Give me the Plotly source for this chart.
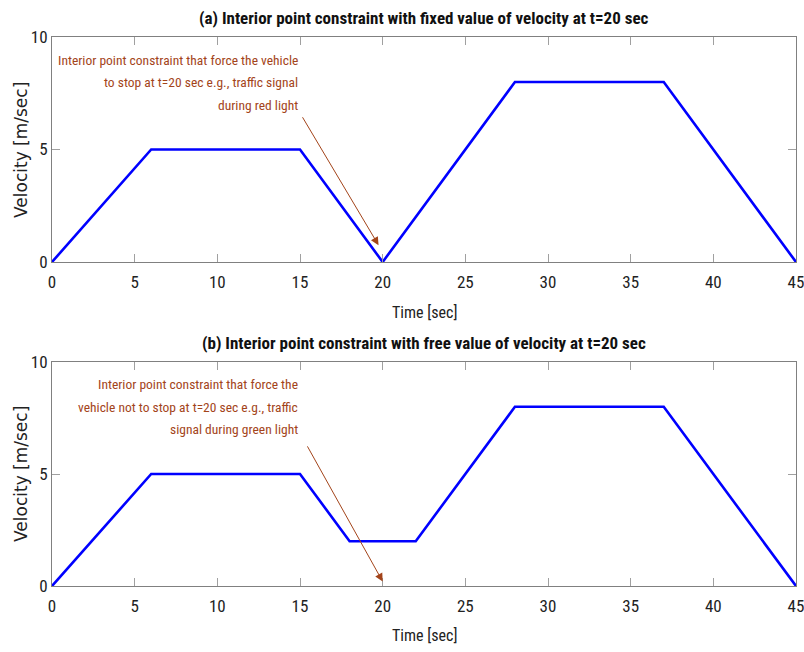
import plotly.graph_objects as go

# Velocity profiles (time in sec, velocity in m/sec)
time_fixed = [0, 6, 15, 20, 28, 37, 45]
vel_fixed = [0, 5, 5, 0, 8, 8, 0]

time_free = [0, 6, 15, 18, 22, 28, 37, 45]
vel_free = [0, 5, 5, 2, 2, 8, 8, 0]

x_ticks = [0, 5, 10, 15, 20, 25, 30, 35, 40, 45]
y_ticks = [0, 5, 10]

titles = [
    "(a) Interior point constraint with fixed value of velocity at t=20 sec",
    "(b) Interior point constraint with free value of velocity at t=20 sec",
]
note_lines = [
    ["Interior point constraint that force the vehicle",
     "to stop at t=20 sec e.g., traffic signal",
     "during red light"],
    ["Interior point constraint that force the",
     "vehicle not to stop at t=20 sec e.g., traffic",
     "signal during green light"],
]
note_y = [9.0, 8.0, 7.0]

W, H = 804, 652
NARROW = "Roboto Condensed, Liberation Sans Narrow, Roboto, sans-serif"
WIDE = "DejaVu Sans, sans-serif"
BLUE = "#0000FF"
BROWN = "#A3441A"
AX = "#808080"

fig = go.Figure()
fig.add_trace(go.Scatter(x=time_fixed, y=vel_fixed, mode="lines",
                         line=dict(color=BLUE, width=2.6), xaxis="x", yaxis="y",
                         showlegend=False, hoverinfo="skip"))
fig.add_trace(go.Scatter(x=time_free, y=vel_free, mode="lines",
                         line=dict(color=BLUE, width=2.6), xaxis="x2", yaxis="y2",
                         showlegend=False, hoverinfo="skip"))

xdom = [52 / W, 796 / W]
ydom_top = [(H - 262) / H, (H - 37) / H]
ydom_bot = [(H - 586) / H, (H - 362) / H]

def xaxis(anchor):
    return dict(domain=xdom, anchor=anchor, range=[0, 45], tickvals=x_ticks,
                ticks="inside", ticklen=8, tickcolor="#a0a0a0", showline=True,
                linecolor=AX, linewidth=1, mirror="ticks", showgrid=False,
                zeroline=False, automargin=False, ticklabeloverflow="allow",
                ticklabelstandoff=5,
                tickfont=dict(family=NARROW, size=17, color="#222"))

def yaxis(anchor, dom):
    return dict(domain=dom, anchor=anchor, range=[0, 10], tickvals=y_ticks,
                ticks="inside", ticklen=8, tickcolor="#a0a0a0", showline=True,
                linecolor=AX, linewidth=1, mirror="ticks", showgrid=False,
                zeroline=False, automargin=False, ticklabeloverflow="allow",
                tickfont=dict(family=NARROW, size=17, color="#222"))

fig.update_layout(
    width=W, height=H, margin=dict(l=0, r=0, t=0, b=0),
    paper_bgcolor="white", plot_bgcolor="white",
    xaxis=xaxis("y"), yaxis=yaxis("x", ydom_top),
    xaxis2=xaxis("y2"), yaxis2=yaxis("x2", ydom_bot),
)

def paper(px, py):
    return px / W, (H - py) / H

# Panel titles and axis titles
for title, ty, xty, ycy in zip(titles, [18, 343], [312, 635], [150, 474]):
    x, y = paper(424, ty)
    fig.add_annotation(text="<b>" + title + "</b>", xref="paper", yref="paper",
                       x=x, y=y, showarrow=False, xanchor="center", yanchor="middle",
                       font=dict(family=NARROW, size=17, color="#111"))
    x, y = paper(424, xty)
    fig.add_annotation(text="Time [sec]", xref="paper", yref="paper",
                       x=x, y=y, showarrow=False, xanchor="center", yanchor="middle",
                       font=dict(family=NARROW, size=16, color="#222"))
    x, y = paper(21, ycy)
    fig.add_annotation(text="Velocity [m/sec]", xref="paper", yref="paper",
                       x=x, y=y, showarrow=False, xanchor="center", yanchor="middle",
                       textangle=-90, font=dict(family=WIDE, size=17, color="#222"))

# Explanatory notes with arrows pointing at t=20 sec
for lines, (xr, yr) in zip(note_lines, [("x", "y"), ("x2", "y2")]):
    for line, ly in zip(lines, note_y):
        fig.add_annotation(text=line, xref=xr, yref=yr, x=15.0, y=ly,
                           xanchor="right", yanchor="middle", showarrow=False,
                           font=dict(family=NARROW, size=13.5, color=BROWN))

fig.add_annotation(x=19.75, y=0.75, ax=15.1, ay=6.5, xref="x", yref="y",
                   axref="x", ayref="y", text="", showarrow=True,
                   arrowhead=2, arrowsize=1.6, arrowwidth=1, arrowcolor=BROWN)
fig.add_annotation(x=20.0, y=0.2, ax=15.4, ay=6.3, xref="x2", yref="y2",
                   axref="x2", ayref="y2", text="", showarrow=True,
                   arrowhead=2, arrowsize=1.6, arrowwidth=1, arrowcolor=BROWN)

fig.write_html("out.html")
